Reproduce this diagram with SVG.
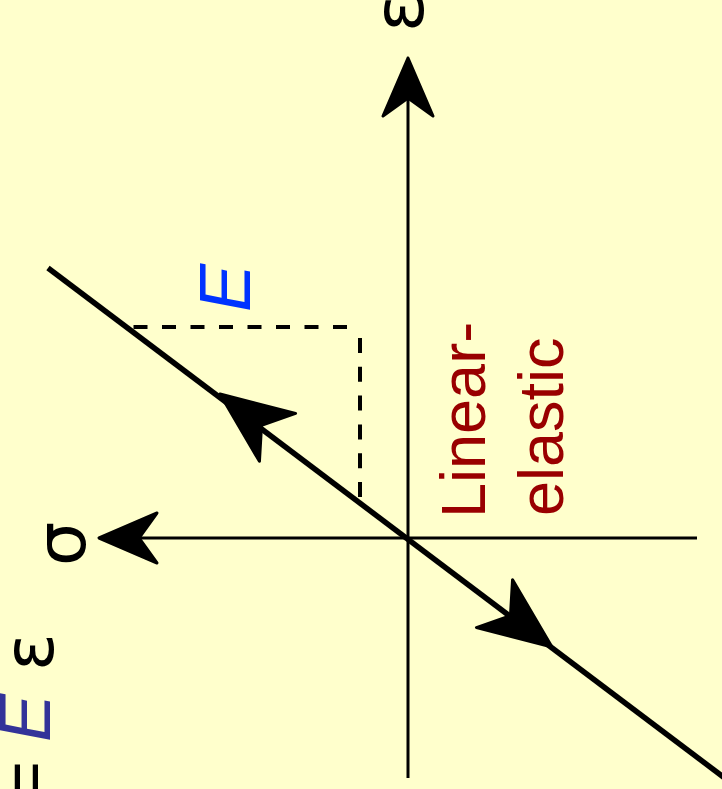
<svg xmlns="http://www.w3.org/2000/svg" xmlns:xlink="http://www.w3.org/1999/xlink" width="722" height="789" viewBox="0 0 722 789">
  <style>
    .axis { stroke: #000; stroke-width: 3; fill: none; }
    .curve { stroke: #000; stroke-width: 5.5; fill: none; }
    .dash { stroke: #000; stroke-width: 4; fill: none; }
    .head { fill: #000; stroke: #000; stroke-width: 3; stroke-linejoin: round; }
    .sym { font-family: "DejaVu Sans", "Liberation Sans", sans-serif; font-size: 70px; fill: #000; }
    .lab { font-family: "Liberation Sans", Arial, sans-serif; font-size: 63px; fill: #990000; }
    .emod { font-family: "Liberation Sans", Arial, sans-serif; font-style: italic; font-size: 72px; }
    .eq { font-family: "Liberation Sans", Arial, sans-serif; font-size: 72px; fill: #000; }
  </style>
  <defs>
    <path id="dhead" d="M0,0 L-72,-30 L-52,0 L-72,30 Z"/>
    <path id="ahead" d="M0,0 L-58,-25 L-40,0 L-58,25 Z"/>
  </defs>
  <rect x="0" y="0" width="722" height="789" fill="#ffffcc"/>

  <g id="connectors">
    <g id="axis-epsilon">
      <line class="axis" x1="408" y1="778" x2="408" y2="90"/>
      <use href="#ahead" class="head" transform="translate(408,58) rotate(-90)"/>
    </g>
    <g id="axis-sigma">
      <line class="axis" x1="697" y1="538" x2="130" y2="538"/>
      <use href="#ahead" class="head" transform="translate(99,538) rotate(180)"/>
    </g>
    <g id="slope-guide">
      <path class="dash" d="M133.5,327 H352" stroke-dasharray="14 14.5"/>
      <path class="dash" d="M360,338 V498" stroke-dasharray="15 13.8"/>
    </g>
    <g id="elastic-line">
      <line class="curve" x1="48" y1="268" x2="726" y2="779"/>
      <use href="#dhead" class="head" transform="translate(220,394) rotate(-143)"/>
      <use href="#dhead" class="head" transform="translate(552,647) rotate(37)"/>
    </g>
  </g>

  <g id="label-epsilon">
    <text class="sym" transform="translate(423,32) rotate(-90)">ε</text>
  </g>
  <g id="label-sigma">
    <text class="sym" transform="translate(85,566) rotate(-90)">σ</text>
  </g>
  <g id="label-E">
    <text class="emod" fill="#0033ff" transform="translate(250,312) rotate(-90)">E</text>
  </g>
  <g id="label-linear-elastic">
    <text class="lab" transform="translate(485,518) rotate(-90)">Linear-</text>
    <text class="lab" transform="translate(563,516) rotate(-90)">elastic</text>
  </g>
  <g id="equation">
    <text class="eq" transform="translate(50,803) rotate(-90)">=</text>
    <text class="emod" fill="#333399" transform="translate(50,742) rotate(-90)">E</text>
    <text class="sym" transform="translate(53,671) rotate(-90)">ε</text>
  </g>
</svg>
